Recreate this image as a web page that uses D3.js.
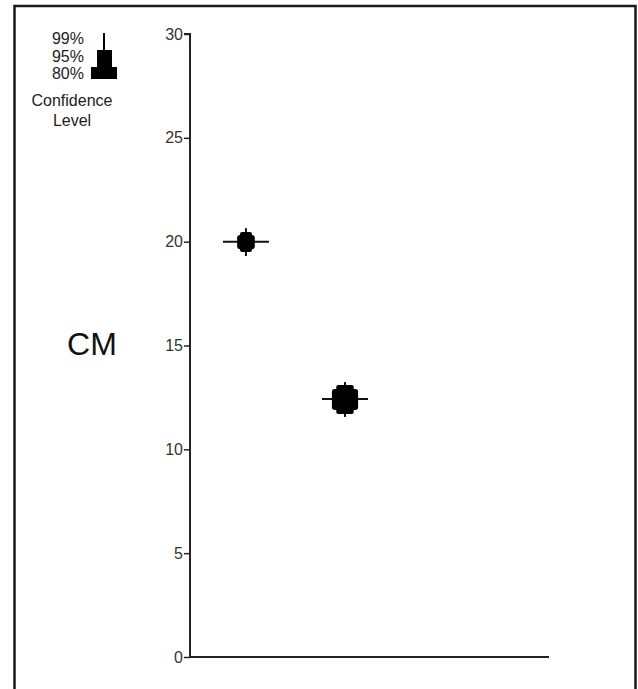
<!DOCTYPE html>
<html>
<head>
<meta charset="utf-8">
<script src="https://cdn.jsdelivr.net/npm/d3@7"></script>
<style>
  body { margin: 0; background: #fff; }
  svg { display: block; font-family: Arial, "Liberation Sans", sans-serif; }
</style>
</head>
<body>
<div id="chart"></div>
<script>
// data
var positions = [1, 2];
var estimates = [20.0, 12.42];
var ci80 = [[19.64, 20.32], [11.89, 12.90]];
var ci95 = [[19.50, 20.46], [11.70, 13.10]];
var ci99 = [[19.31, 20.65], [11.56, 13.24]];
var yTicks = [0, 5, 10, 15, 20, 25, 30];
var legendLevels = ["99%", "95%", "80%"];

var W = 638, H = 689;

var svg = d3.select("#chart")
            .append("svg")
                .attr("width", W)
                .attr("height", H);

// outer frame (bottom edge runs off the picture)
svg.append("rect")
    .attr("x", 14.5).attr("y", 6)
    .attr("width", 621).attr("height", 700)
    .attr("fill", "none")
    .attr("stroke", "#1a1a1a")
    .attr("stroke-width", 2.5);

var y = d3.scaleLinear().domain([0, 30]).range([657, 34]);
var x = d3.scaleLinear().domain([0.435, 4.06]).range([190, 549]);

var y_axis = d3.axisLeft(y).tickValues(yTicks).tickSize(6).tickPadding(1);

var gy = svg.append("g")
    .attr("transform", "translate(190,0)")
    .call(y_axis);
gy.select(".domain").attr("stroke", "#222").attr("stroke-width", 2).attr("d", "M-6,34H0V657");
gy.selectAll(".tick line").attr("stroke", "#222").attr("stroke-width", 1.5);
gy.selectAll(".tick text")
    .attr("fill", "#333")
    .style("font-size", "16px")
    .style("font-family", "Arial, 'Liberation Sans', sans-serif");

// x axis line only
svg.append("line")
    .attr("x1", 189).attr("x2", 549)
    .attr("y1", y(0)).attr("y2", y(0))
    .attr("stroke", "#222").attr("stroke-width", 2);

// confidence glyphs
var pts = positions.map(function(p, i) {
    return { p: p, est: estimates[i], c80: ci80[i], c95: ci95[i], c99: ci99[i] };
});

var g = svg.append("g").selectAll("g")
    .data(pts)
    .enter().append("g");

g.append("line")
    .attr("x1", function(d) { return x(d.p) - 23; })
    .attr("x2", function(d) { return x(d.p) + 23; })
    .attr("y1", function(d) { return y(d.est); })
    .attr("y2", function(d) { return y(d.est); })
    .attr("stroke", "#111").attr("stroke-width", 2);

g.append("line")
    .attr("x1", function(d) { return x(d.p); })
    .attr("x2", function(d) { return x(d.p); })
    .attr("y1", function(d) { return y(d.c99[1]); })
    .attr("y2", function(d) { return y(d.c99[0]); })
    .attr("stroke", "#111").attr("stroke-width", 2);

g.append("rect")
    .attr("x", function(d) { var h = y(d.c95[0]) - y(d.c95[1]); return x(d.p) - 0.3 * h; })
    .attr("width", function(d) { var h = y(d.c95[0]) - y(d.c95[1]); return 0.6 * h; })
    .attr("y", function(d) { return y(d.c95[1]); })
    .attr("height", function(d) { return y(d.c95[0]) - y(d.c95[1]); })
    .attr("rx", 2)
    .attr("fill", "#000");

g.append("rect")
    .attr("x", function(d) { var h = y(d.c80[0]) - y(d.c80[1]); return x(d.p) - 0.625 * h; })
    .attr("width", function(d) { var h = y(d.c80[0]) - y(d.c80[1]); return 1.25 * h; })
    .attr("y", function(d) { return y(d.c80[1]); })
    .attr("height", function(d) { return y(d.c80[0]) - y(d.c80[1]); })
    .attr("rx", 3)
    .attr("fill", "#000");

// legend
var leg = svg.append("g");
leg.selectAll("text.lvl")
    .data(legendLevels)
    .enter().append("text")
    .attr("class", "lvl")
    .attr("x", 84)
    .attr("y", function(d, i) { return 44 + i * 17.5; })
    .attr("text-anchor", "end")
    .attr("fill", "#222")
    .style("font-size", "16px")
    .text(function(d) { return d; });

leg.append("line")
    .attr("x1", 104).attr("x2", 104)
    .attr("y1", 33).attr("y2", 51)
    .attr("stroke", "#000").attr("stroke-width", 2);
leg.append("rect")
    .attr("x", 97).attr("y", 50).attr("width", 15).attr("height", 18)
    .attr("fill", "#000");
leg.append("rect")
    .attr("x", 91).attr("y", 67).attr("width", 26).attr("height", 12)
    .attr("fill", "#000");

leg.append("text")
    .attr("x", 72).attr("y", 106)
    .attr("text-anchor", "middle")
    .attr("fill", "#222")
    .style("font-size", "16px")
    .text("Confidence");
leg.append("text")
    .attr("x", 72).attr("y", 126)
    .attr("text-anchor", "middle")
    .attr("fill", "#222")
    .style("font-size", "16px")
    .text("Level");

svg.append("text")
    .attr("x", 92).attr("y", 355)
    .attr("text-anchor", "middle")
    .attr("fill", "#111")
    .style("font-size", "32px")
    .text("CM");
</script>
</body>
</html>
